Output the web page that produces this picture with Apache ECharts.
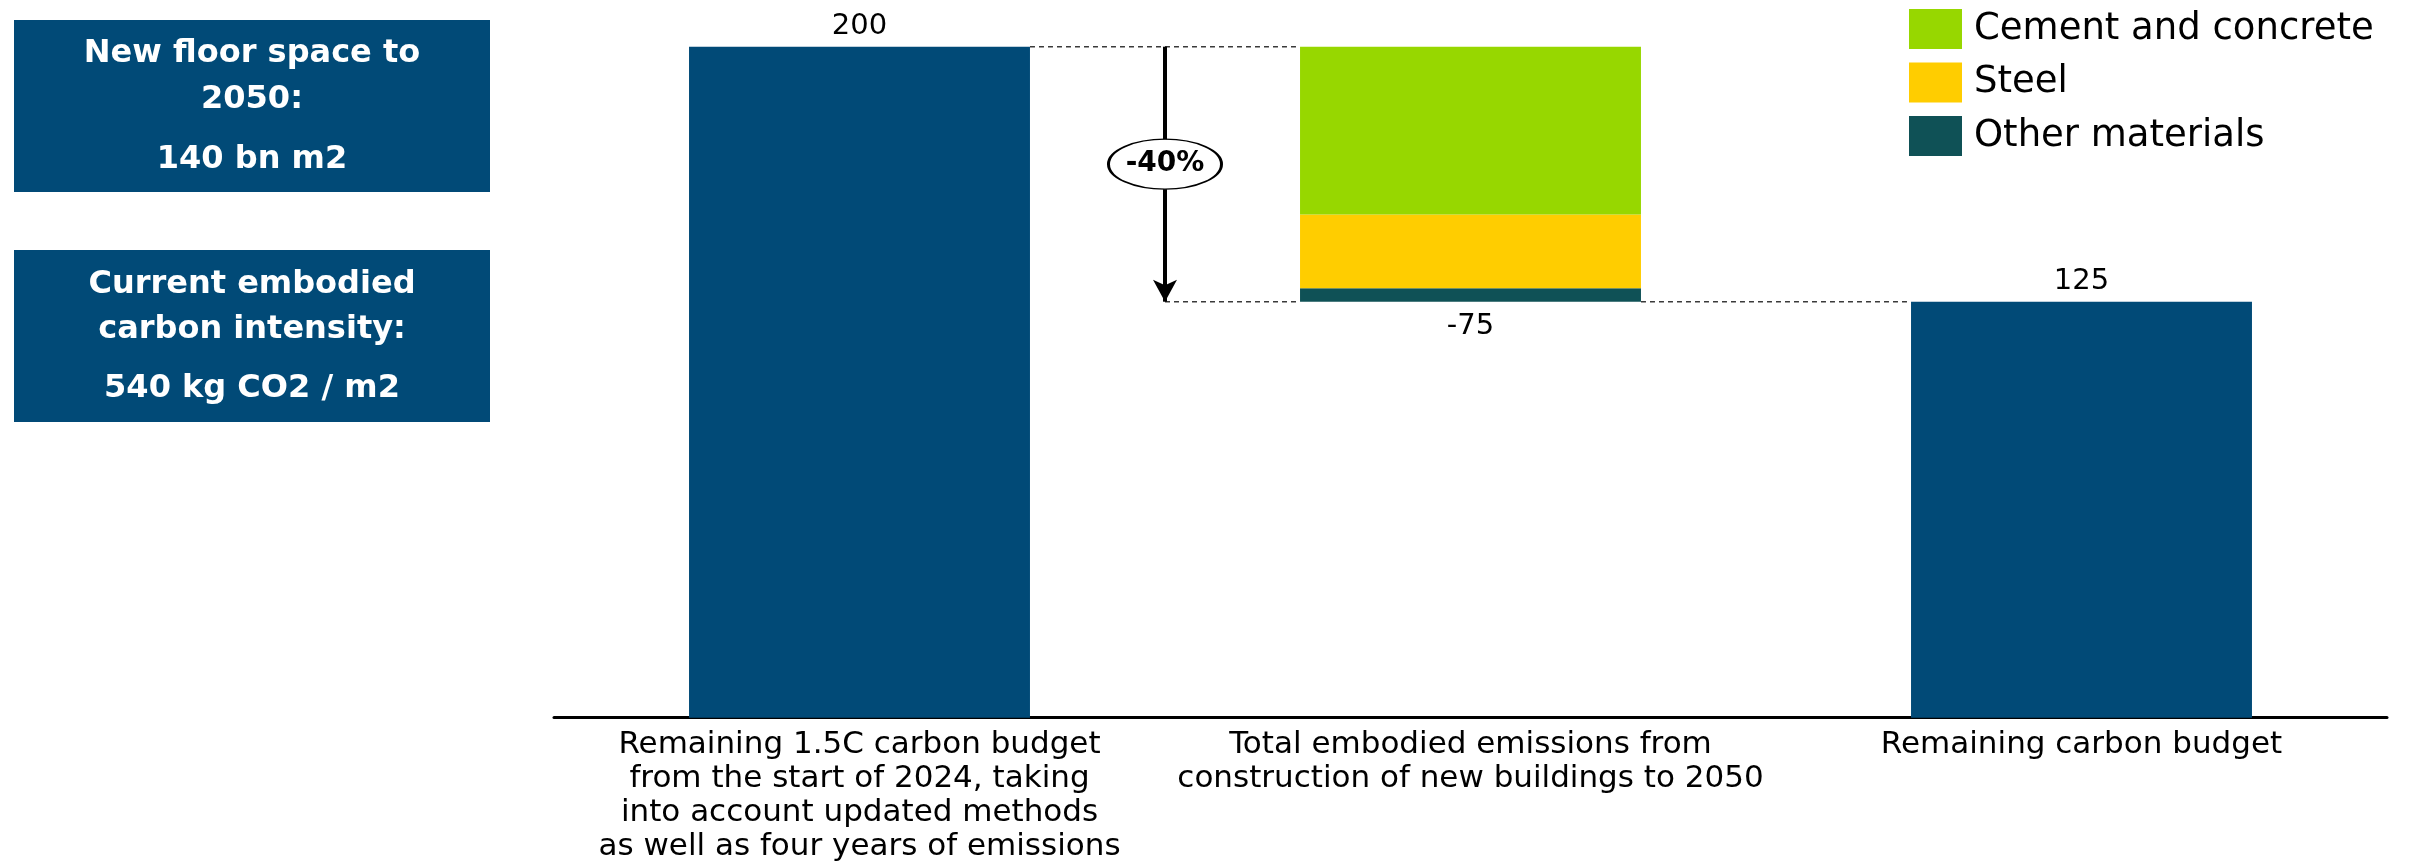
<!DOCTYPE html>
<html>
<head>
<meta charset="utf-8">
<script src="https://cdn.jsdelivr.net/npm/echarts@6/dist/echarts.min.js"></script>
<style>
html,body{margin:0;padding:0;background:#fff;}
#chart{width:2410px;height:866px;}
</style>
</head>
<body>
<div id="chart"></div>
<script>
// ---- data ----
const categories = [
  'Remaining 1.5C carbon budget\nfrom the start of 2024, taking\ninto account updated methods\nas well as four years of emissions',
  'Total embodied emissions from\nconstruction of new buildings to 2050',
  'Remaining carbon budget'
];
const startBudget = 200;
const materialNames = ['Cement and concrete', 'Steel', 'Other materials'];
const materialValues = [50, 22, 4];
const valueLabels = ['200', '-75', '125'];
const changeLabel = '-40%';
const changeLabelLevel = 165;
const boxLines1 = ['New floor space to', '2050:', '140 bn m2'];
const boxLines2 = ['Current embodied', 'carbon intensity:', '540 kg CO2 / m2'];

// ---- derived ----
const totalEmbodied = materialValues.reduce((a, b) => a + b, 0);
const remaining = startBudget - totalEmbodied;

const BLUE = '#014A77';
const matColors = ['#97D700', '#FFCD00', '#0F5156'];
const FONT = '"DejaVu Sans", sans-serif';
const halfBar = 0.279;

const chart = echarts.init(document.getElementById('chart'));

function boxGraphic(y0, lines, ys) {
  const els = [{
    type: 'rect', shape: { x: 14, y: y0, width: 476, height: 172 },
    style: { fill: BLUE }, silent: true
  }];
  lines.forEach((t, i) => {
    els.push({
      type: 'text', x: 252, y: ys[i], silent: true,
      style: { text: t, fill: '#fff', fontSize: 32, fontWeight: 'bold', fontFamily: FONT,
        align: 'center', verticalAlign: 'middle' }
    });
  });
  return els;
}

const dashStyle = { color: '#3a3a3a', width: 1.5, type: [5, 4] };
function connector(x1, x2, y) {
  return {
    type: 'line', xAxisIndex: 1, yAxisIndex: 0, silent: true, symbol: 'none',
    lineStyle: dashStyle, z: 1, data: [[x1, y], [x2, y]]
  };
}

// material series stacked from the top of remaining: bottom = last in legend
const stackOrder = [2, 1, 0];
const matSeries = stackOrder.map(idx => ({
  name: materialNames[idx], type: 'bar', stack: 'w', barWidth: '55.8%',
  itemStyle: { color: matColors[idx] }, z: 3,
  data: ['-', materialValues[idx], '-']
}));

const option = {
  animation: false,
  textStyle: { fontFamily: FONT },
  grid: { left: 554, right: 23, top: 46.7, bottom: 148.3, containLabel: false },
  legend: {
    data: materialNames, orient: 'vertical', left: 1904, top: 4,
    itemWidth: 53, itemHeight: 40, itemGap: 13.5, icon: 'rect',
    textStyle: { fontSize: 37, color: '#000', fontFamily: FONT, padding: [0, 0, 0, 7] },
    selectedMode: false
  },
  xAxis: [{
    type: 'category', data: categories,
    axisLine: { lineStyle: { color: '#000', width: 3 } },
    axisTick: { show: false },
    axisLabel: { fontSize: 31, lineHeight: 34, color: '#000', margin: 10, interval: 0, fontFamily: FONT }
  }, {
    type: 'value', min: -0.5, max: 2.5, show: false
  }],
  yAxis: { type: 'value', min: 0, max: 200, show: false },
  graphic: [
    ...boxGraphic(20, boxLines1, [54, 100, 160]),
    ...boxGraphic(250, boxLines2, [285, 330, 389])
  ],
  series: [
    {
      name: 'Budget', type: 'bar', stack: 'w', barWidth: '55.8%', z: 3,
      itemStyle: { color: BLUE },
      data: [startBudget, '-', remaining],
      label: { show: true, position: 'top', distance: 6, fontSize: 29, color: '#000', fontFamily: FONT,
        formatter: p => valueLabels[p.dataIndex] }
    },
    {
      name: 'base', type: 'bar', stack: 'w', barWidth: '55.8%', z: 3, silent: true,
      itemStyle: { color: 'rgba(0,0,0,0)' },
      data: ['-', remaining, '-'],
      label: { show: true, position: 'insideTop', distance: 10, fontSize: 29, color: '#000', fontFamily: FONT,
        formatter: p => valueLabels[p.dataIndex] }
    },
    ...matSeries,
    connector(halfBar, 1 - halfBar, startBudget),
    connector(0.5, 1 - halfBar, remaining),
    connector(1 + halfBar, 2 - halfBar, remaining),
    {
      type: 'line', xAxisIndex: 1, yAxisIndex: 0, silent: true, symbol: 'none', data: [],
      markLine: {
        silent: true, animation: false,
        symbol: ['none', 'arrow'], symbolSize: [18, 22],
        lineStyle: { color: '#000', width: 4, type: 'solid' },
        label: { show: false },
        data: [[{ coord: [0.5, startBudget] }, { coord: [0.5, remaining] }]]
      }
    },
    {
      type: 'scatter', xAxisIndex: 1, yAxisIndex: 0, silent: true, z: 10,
      symbol: 'circle', symbolSize: [113, 50],
      itemStyle: { color: '#fff', borderColor: '#000', borderWidth: 2, opacity: 1 },
      label: { show: true, position: 'inside', formatter: changeLabel, fontSize: 28, fontWeight: 'bold',
        color: '#000', fontFamily: FONT },
      data: [[0.5, changeLabelLevel]]
    }
  ]
};
chart.setOption(option);
</script>
</body>
</html>
